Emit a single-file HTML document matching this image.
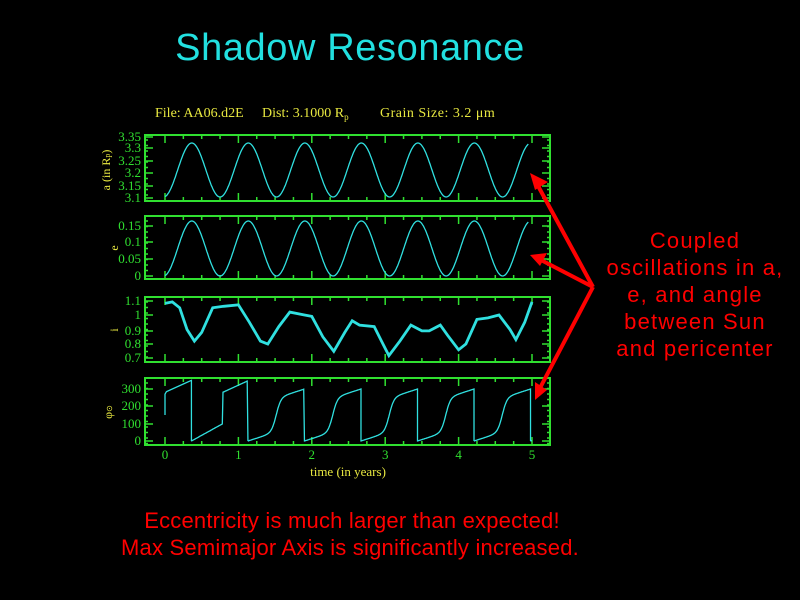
<!DOCTYPE html>
<html><head><style>
html,body{margin:0;padding:0;background:#000;width:800px;height:600px;overflow:hidden}
svg{display:block}
</style></head><body>
<svg id="s" width="800" height="600" xmlns="http://www.w3.org/2000/svg" font-family="Liberation Serif, serif">
<rect width="800" height="600" fill="#000"/>
<text x="350" y="60" fill="#22e0e0" font-family="Liberation Sans, sans-serif" font-size="38" letter-spacing="0.6" text-anchor="middle">Shadow Resonance</text>
<text x="155" y="117" fill="#e8e840" font-size="14">File: AA06.d2E</text>
<text x="262" y="117" fill="#e8e840" font-size="14">Dist: 3.1000 R<tspan font-size="9" dy="3">p</tspan></text>
<text x="380" y="117" fill="#e8e840" font-size="14" letter-spacing="0.5">Grain Size: 3.2 μm</text>
<g fill="#e8e840" font-size="12">
<text transform="translate(110,170) rotate(-90)" text-anchor="middle">a (in R<tspan font-size="8">p</tspan>)</text>
<text transform="translate(118,248) rotate(-90)" text-anchor="middle">e</text>
<text transform="translate(118,330) rotate(-90)" text-anchor="middle">i</text>
<text transform="translate(112,412) rotate(-90)" text-anchor="middle">φ<tspan font-size="8">⊙</tspan></text>
<text x="348" y="476" text-anchor="middle" font-size="13">time (in years)</text>
</g>
<g id="plots"></g>
<g fill="#f00" font-family="Liberation Sans, sans-serif" font-size="22" letter-spacing="1.2">
<text x="695" y="248" text-anchor="middle">Coupled</text>
<text x="695" y="275" text-anchor="middle">oscillations in a,</text>
<text x="695" y="302" text-anchor="middle">e, and angle</text>
<text x="695" y="329" text-anchor="middle">between Sun</text>
<text x="695" y="356" text-anchor="middle">and pericenter</text>
</g>
<g fill="#f00" font-family="Liberation Sans, sans-serif" font-size="22" letter-spacing="0.2">
<text x="352" y="528" text-anchor="middle">Eccentricity is much larger than expected!</text>
<text x="350" y="555" text-anchor="middle">Max Semimajor Axis is significantly increased.</text>
</g>
<g stroke="#f00" stroke-width="4" fill="#f00">
<line x1="593" y1="287" x2="537" y2="184"/>
<line x1="593" y1="287" x2="541" y2="260"/>
<line x1="593" y1="287" x2="540" y2="388"/>
<polygon points="530,173 548,182 535,190" stroke="none"/>
<polygon points="530,255 547,253 540,266" stroke="none"/>
<polygon points="535,400 535,382 547,390" stroke="none"/>
</g>
</svg>
<script>
var g=document.getElementById('plots'),ns='http://www.w3.org/2000/svg';
var X0=145,X1=550,T0=165,T5=532;
function tx(t){return T0+(T5-T0)*t/5}
function el(n,a){var e=document.createElementNS(ns,n);for(var k in a)e.setAttribute(k,a[k]);g.appendChild(e);return e}
function panel(y0,y1,ticks,fn,lw){
 el('rect',{x:X0,y:y0,width:X1-X0,height:y1-y0,fill:'none',stroke:'#30e030','stroke-width':2});
 var d='';
 for(var t=0;t<=5.01;t+=0.25){var x=tx(t),L=(Math.abs(t-Math.round(t))<0.01)?8:4;d+='M'+x+' '+y0+'v'+L+'M'+x+' '+y1+'v-'+L;}
 for(var y=y0+5;y<y1;y+=5.5){d+='M'+X0+' '+y+'h3M'+X1+' '+y+'h-3';}
 ticks.forEach(function(tk){d+='M'+X0+' '+tk[1]+'h8M'+X1+' '+tk[1]+'h-8';
  var tt=el('text',{x:X0-4,y:tk[1]+4,fill:'#30e030','font-size':13,'text-anchor':'end','font-family':'Liberation Serif, serif'});tt.textContent=tk[0];});
 el('path',{d:d,stroke:'#30e030','stroke-width':1.5,fill:'none'});
 el('path',{d:fn(),stroke:'#30e0e0','stroke-width':lw||1.3,fill:'none'});
}
var P=0.77;
function sine(yl,yh){var d='';for(var t=0;t<=4.95;t+=0.01){var v=(1-Math.cos(2*Math.PI*(t+0.02)/P))/2;d+=(t?'L':'M')+tx(t).toFixed(1)+' '+(yl-(yl-yh)*v).toFixed(1);}return d;}
panel(135,201,[['3.35',137],['3.3',148],['3.25',161],['3.2',173],['3.15',186],['3.1',198]],function(){return sine(197,143)});
panel(216,279,[['0.15',226],['0.1',242],['0.05',259],['0',276]],function(){return sine(276,221)});
var ip=[[0,1.08],[0.1,1.09],[0.2,1.05],[0.3,0.9],[0.4,0.82],[0.5,0.88],[0.65,1.05],[0.8,1.06],[1.0,1.07],[1.15,0.95],[1.3,0.82],[1.4,0.8],[1.55,0.92],[1.7,1.02],[1.9,1.0],[2.0,0.99],[2.15,0.85],[2.3,0.75],[2.45,0.88],[2.55,0.96],[2.65,0.93],[2.85,0.92],[2.95,0.82],[3.05,0.72],[3.2,0.82],[3.35,0.93],[3.5,0.89],[3.6,0.89],[3.75,0.93],[3.85,0.86],[4.0,0.76],[4.1,0.8],[4.25,0.97],[4.4,0.98],[4.55,1.0],[4.7,0.9],[4.78,0.83],[4.9,0.95],[5,1.09]];
panel(297,362,[['1.1',301],['1',315],['0.9',331],['0.8',344],['0.7',358]],function(){var d='';ip.forEach(function(p,i){d+=(i?'L':'M')+tx(p[0]).toFixed(1)+' '+(315-(p[1]-1)*145).toFixed(1);});return d;},2.8);
function py(v){return 441-v*(441-389)/300}
panel(378,445,[['300',389],['200',406],['100',424],['0',441]],function(){
 var d='M'+tx(0)+' '+py(150)+'L'+tx(0)+' '+py(270);
 var cyc=0.77,s=0.36;
 d+='L'+tx(0.02)+' '+py(285)+'L'+tx(s)+' '+py(350)+'L'+tx(s)+' '+py(0);
 for(var k=0;k<7;k++){var a=s+k*cyc,b=a+cyc;if(a>=5)break;
  var n=Math.min(b,5.0);
  for(var t=a;t<=n;t+=0.01){var u=(t-a)/cyc;var w=k<1?(u<0.55?u*180:280+(u-0.55)*150):(150+150*Math.tanh((u-0.5)*12)/Math.tanh(6)*0.65+ (u-0.5)*150*0.7);
   w=Math.max(0,Math.min(350,w));d+='L'+tx(t).toFixed(1)+' '+py(w).toFixed(1);}
  if(b<=5){d+='L'+tx(b)+' '+py(0);} }
 return d;});
var lab=['0','1','2','3','4','5'];lab.forEach(function(l,i){var t=el('text',{x:tx(i),y:459,fill:'#30e030','font-size':13,'text-anchor':'middle','font-family':'Liberation Serif, serif'});t.textContent=l;});
</script>
</body></html>
